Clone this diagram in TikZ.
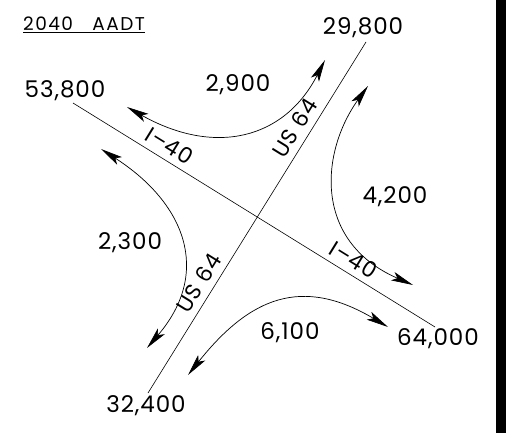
\documentclass[tikz,border=0pt]{standalone}
\usepackage{fontspec}
\setmainfont{Poppins}[LetterSpace=4]
\usepackage{tikz}
\usetikzlibrary{arrows.meta}

\begin{document}
\begin{tikzpicture}[x=1pt, y=-1pt,
    road/.style={draw, line width=0.6pt},
    turn/.style={line width=0.7pt, {Stealth[length=22pt,width=9pt,inset=5pt]}-{Stealth[length=22pt,width=9pt,inset=5pt]}},
    vol/.style={font=\fontsize{23}{26}\selectfont, inner sep=0pt},
    rname/.style={font=\fontsize{22}{26}\selectfont, inner sep=0pt}]
    \useasboundingbox (0,0) rectangle (506,433);
    \fill (495.5,0) rectangle (506,433);

    % Title
    \node[font=\fontsize{18.5}{22}\selectfont\addfontfeatures{LetterSpace=8}, inner sep=0pt] (title) at (84,25) {\underline{2040\ \ \ AADT}};

    % Roads
    \coordinate (west) at (73,103);
    \coordinate (east) at (435,327);
    \coordinate (north) at (366,42);
    \coordinate (south) at (148,393);
    \draw[road] (west) -- (east);
    \draw[road] (north) -- (south);
    \node[rname, rotate=-31.7] (i40a) at (169.6,145.5) {I--40};
    \node[rname, rotate=-31.7] (i40b) at (353.6,259.5) {I--40};
    \node[rname, rotate=58.2] (us64a) at (294.6,128) {US 64};
    \node[rname, rotate=58.2] (us64b) at (198.6,283) {US 64};

    % Approach volumes
    \node[vol] (vwest) at (65,91) {53,800};
    \node[vol] (vnorth) at (363,28) {29,800};
    \node[vol] (veast) at (438,339) {64,000};
    \node[vol] (vsouth) at (146,406) {32,400};

    % Turning volumes
    \node[vol] (vnw) at (238,85) {2,900};
    \node[vol] (vne) at (395,197) {4,200};
    \node[vol] (vsw) at (130,243) {2,300};
    \node[vol] (vse) at (290,333) {6,100};

    % Turn arrows
    \coordinate (nwa) at (127,107);
    \coordinate (nwb) at (325,60);
    \coordinate (nea) at (368,86);
    \coordinate (neb) at (413,285);
    \coordinate (swa) at (101,149);
    \coordinate (swb) at (147,348);
    \coordinate (sea) at (188,375);
    \coordinate (seb) at (388,327);
    \draw[turn] (nwa) .. controls (214,156) and (284,140) .. (nwb);
    \draw[turn] (nea) .. controls (321,151) and (312,241) .. (neb);
    \draw[turn] (swa) .. controls (185,203) and (212,272) .. (swb);
    \draw[turn] (sea) .. controls (250,297) and (302,276) .. (seb);
\end{tikzpicture}
\end{document}
